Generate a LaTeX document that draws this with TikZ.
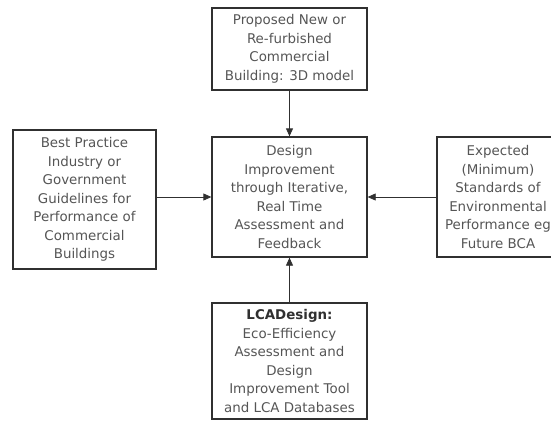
\documentclass[tikz,border=0pt]{standalone}
\usepackage{fontspec}
\setmainfont{DejaVu Sans}
\usepackage{tikz}
\usetikzlibrary{arrows.meta, positioning}
\definecolor{boxline}{HTML}{303030}
\definecolor{boxtext}{HTML}{555555}

\begin{document}
\begin{tikzpicture}[x=1pt, y=-1pt,
		font=\fontsize{13.4}{18.5}\selectfont,
		box/.style={draw=boxline, line width=1.3pt, rectangle, inner sep=0pt, align=center, text=boxtext},
		link/.style={-{Triangle[length=8pt, width=7pt]}, boxline, line width=0.8pt}]
		
		\useasboundingbox (0,0) rectangle (551,423);
		\clip (0,0) rectangle (551,423);
		
		% Nodes
		\node[box, minimum width=155pt, minimum height=120pt] (design) at (289.5,197) {
			Design\\ Improvement\\ through Iterative,\\ Real Time\\ Assessment and\\ Feedback};
			
			\node[box, minimum width=155pt, minimum height=82pt] (proposed) at (289.5,49) {
				Proposed New or\\ Re-furbished\\ Commercial\\ Building: 3D model};
				
				\node[box, minimum width=143pt, minimum height=139pt] (practice) at (84.5,199.5) {
					Best Practice\\ Industry or\\ Government\\ Guidelines for\\ Performance of\\ Commercial\\ Buildings};
					
					\node[box, minimum width=122pt, minimum height=120pt] (standards) at (498,197) {
						Expected\\ (Minimum)\\ Standards of\\ Environmental\\ Performance eg\\ Future BCA};
						
						\node[box, minimum width=155pt, minimum height=116pt] (lcadesign) at (289.5,361) {
							\textbf{\color{boxline}LCADesign:}\\ Eco-Efficiency\\ Assessment and\\ Design\\ Improvement Tool\\ and LCA Databases};
							
				% Arrows
				\draw[link] (proposed) -- (design);
				\draw[link] (practice.east |- design) -- (design);
				\draw[link] (standards.west |- design) -- (design);
				\draw[link] (lcadesign) -- (design);
				
	\end{tikzpicture}
\end{document}
